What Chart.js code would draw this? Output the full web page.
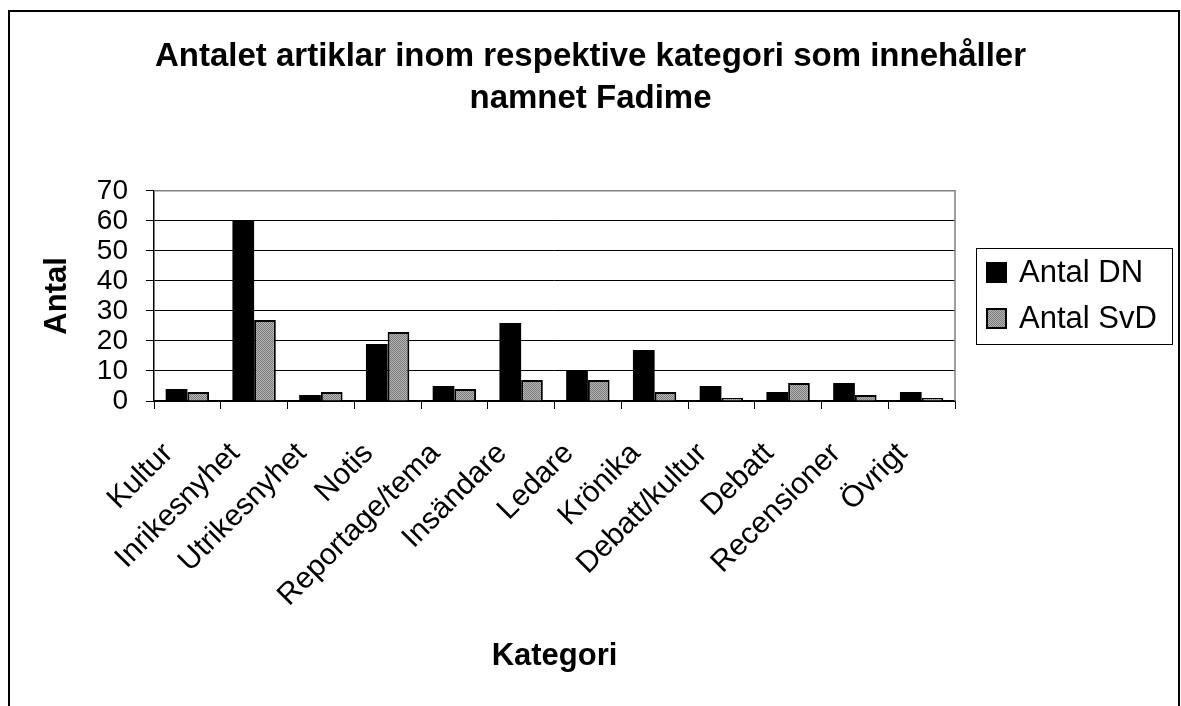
<!DOCTYPE html>
<html>
<head>
<meta charset="utf-8">
<script src="https://cdn.jsdelivr.net/npm/chart.js@4.4.1/dist/chart.umd.min.js"></script>
<style>
    html, body { margin: 0; padding: 0; background: #fff; }
    #wrap { width: 1181px; height: 706px; }
</style>
</head>
<body>
<div id="wrap"><canvas id="chart" width="1181" height="706"></canvas></div>
<script>
// Chart data
const categories = ['Kultur', 'Inrikesnyhet', 'Utrikesnyhet', 'Notis', 'Reportage/tema', 'Insändare',
    'Ledare', 'Krönika', 'Debatt/kultur', 'Debatt', 'Recensioner', 'Övrigt'];
const antalDN = [4, 60, 2, 19, 5, 26, 10, 17, 5, 3, 6, 3];
const antalSvD = [3, 27, 3, 23, 4, 7, 7, 3, 1, 6, 2, 1];
const yMin = 0;
const yMax = 70;
const yStep = 10;

const FONT = '"Liberation Sans", Arial, sans-serif';
const canvas = document.getElementById('chart');
const ctx = canvas.getContext('2d');

// grey dotted fill like the old office pattern
function checkerPattern() {
    const c = document.createElement('canvas');
    c.width = 2;
    c.height = 2;
    const g = c.getContext('2d');
    g.fillStyle = '#b4b4b4';
    g.fillRect(0, 0, 2, 2);
    g.fillStyle = '#7c7c7c';
    g.fillRect(0, 0, 1, 1);
    g.fillRect(1, 1, 1, 1);
    return ctx.createPattern(c, 'repeat');
}

// outer frame + grey top/right edge of the plot area
const frames = {
    id: 'frames',
    afterDraw(chart) {
        const c = chart.ctx;
        const a = chart.chartArea;
        c.save();
        c.strokeStyle = '#808080';
        c.lineWidth = 1.5;
        c.beginPath();
        c.moveTo(a.left, a.top);
        c.lineTo(a.right, a.top);
        c.lineTo(a.right, a.bottom);
        c.stroke();
        c.strokeStyle = '#000';
        c.lineWidth = 2;
        c.strokeRect(9, 11, 1170, 760);
        c.restore();
    }
};

// boxed legend to the right of the plot
const boxLegend = {
    id: 'boxLegend',
    afterDraw(chart) {
        const c = chart.ctx;
        const a = chart.chartArea;
        const x = a.right + 21;
        const y = Math.round((a.top + a.bottom) / 2) - 48;
        c.save();
        c.strokeStyle = '#000';
        c.lineWidth = 1;
        c.strokeRect(x + 0.5, y + 0.5, 196, 96);
        chart.data.datasets.forEach((ds, i) => {
            const ry = y + 14 + i * 46;
            c.fillStyle = ds.backgroundColor;
            c.fillRect(x + 10, ry, 21, 21);
            c.lineWidth = 2;
            c.strokeStyle = '#000';
            c.strokeRect(x + 11, ry + 1, 19, 19);
            c.fillStyle = '#000';
            c.font = '31px ' + FONT;
            c.textBaseline = 'middle';
            c.fillText(ds.label, x + 43, ry + 11);
        });
        c.restore();
    }
};

new Chart(canvas, {
    type: 'bar',
    data: {
        labels: categories,
        datasets: [{
            label: 'Antal DN',
            data: antalDN,
            backgroundColor: '#000',
            borderColor: '#000',
            borderWidth: 0,
            categoryPercentage: 0.65,
            barPercentage: 1
        }, {
            label: 'Antal SvD',
            data: antalSvD,
            backgroundColor: checkerPattern(),
            borderColor: '#000',
            borderWidth: 2,
            categoryPercentage: 0.65,
            barPercentage: 1
        }]
    },
    options: {
        responsive: false,
        animation: false,
        layout: {
            padding: { top: 10, left: 0, right: 0, bottom: 16 }
        },
        plugins: {
            legend: { display: false },
            tooltip: { enabled: false },
            title: {
                display: true,
                text: ['Antalet artiklar inom respektive kategori som innehåller', 'namnet Fadime'],
                color: '#000',
                font: { family: FONT, size: 33, weight: 'bold', lineHeight: 1.3 },
                padding: { top: 25, bottom: 70 }
            }
        },
        scales: {
            x: {
                offset: true,
                grid: { offset: true, drawOnChartArea: false, tickLength: 8, color: '#000' },
                border: { color: '#000', width: 1.5 },
                ticks: {
                    autoSkip: false,
                    minRotation: 45,
                    maxRotation: 45,
                    color: '#000',
                    padding: 27,
                    labelOffset: -19,
                    font: { family: FONT, size: 30 }
                },
                title: {
                    display: true,
                    text: 'Kategori',
                    color: '#000',
                    font: { family: FONT, size: 31, weight: 'bold' },
                    padding: { top: 0, bottom: 15 }
                },
                afterFit(scale) { scale.height = 289; }
            },
            y: {
                min: yMin,
                max: yMax,
                grid: { tickLength: 8, color: '#000', lineWidth: 1 },
                border: { color: '#000', width: 1.5 },
                ticks: {
                    stepSize: yStep,
                    autoSkip: false,
                    color: '#000',
                    padding: 18,
                    font: { family: FONT, size: 28, lineHeight: 1 }
                },
                title: {
                    display: true,
                    text: 'Antal',
                    color: '#000',
                    font: { family: FONT, size: 31, weight: 'bold' },
                    padding: { top: 39, bottom: 0 }
                },
                afterFit(scale) { scale.width = 154; }
            },
            // empty axis that only reserves the room used by the legend
            legendRoom: {
                type: 'linear',
                position: 'right',
                display: true,
                grid: { display: false },
                border: { display: false },
                ticks: { display: false },
                afterFit(scale) { scale.width = 226; }
            }
        }
    },
    plugins: [frames, boxLegend]
});
</script>
</body>
</html>
